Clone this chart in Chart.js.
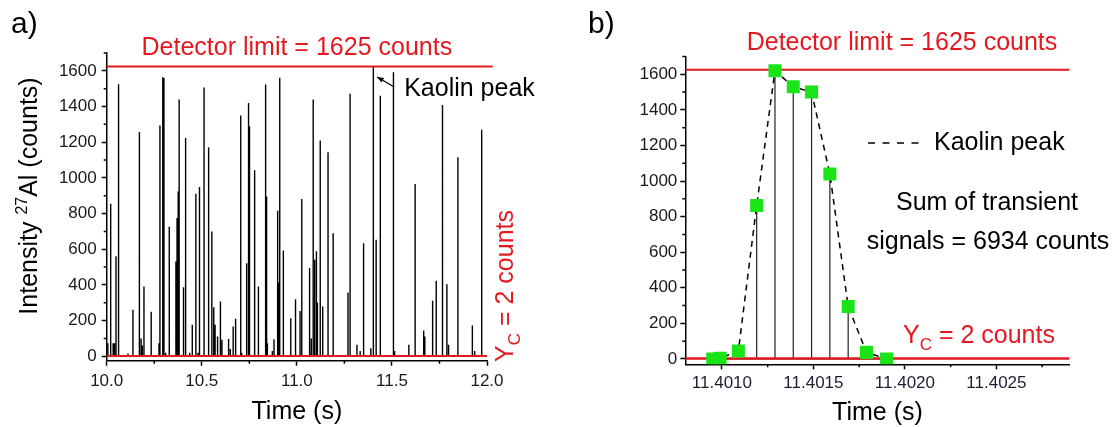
<!DOCTYPE html>
<html>
<head>
<meta charset="utf-8">
<script src="https://cdn.jsdelivr.net/npm/chart.js@4.4.0/dist/chart.umd.min.js"></script>
<style>
  body { margin: 0; background: #fff; width: 1115px; height: 427px; overflow: hidden; position: relative; }
  canvas { position: absolute; top: 0; }
  #ca { left: 0; }
  #cb { left: 560px; }
</style>
</head>
<body>
<canvas id="ca" width="560" height="427"></canvas>
<canvas id="cb" width="555" height="427"></canvas>
<script>
// panel a: single particle events, 10-12 s
var spikeTimes = [10.006,10.021,10.034,10.041,10.049,10.060,10.064,10.112,10.138,10.172,
  10.181,10.187,10.196,10.234,10.275,10.280,10.295,10.301,10.310,10.329,
  10.364,10.370,10.376,10.381,10.404,10.415,10.436,10.450,10.469,10.480,
  10.488,10.512,10.536,10.553,10.563,10.570,10.583,10.598,10.606,10.641,
  10.650,10.665,10.678,10.705,10.710,10.736,10.746,10.751,10.778,10.798,
  10.834,10.837,10.841,10.845,10.871,10.880,10.899,10.905,10.910,10.929,
  10.968,10.993,11.017,11.026,11.067,11.076,11.086,11.092,11.095,11.103,
  11.108,11.123,11.136,11.164,11.191,11.269,11.280,11.316,11.333,11.351,
  11.389,11.4013,11.403,11.417,11.439,11.508,11.514,11.589,11.622,11.667,
  11.673,11.714,11.733,11.766,11.789,11.798,11.847,11.923,11.935,11.972];
var spikeCounts = [73,855,73,73,560,140,1525,15,260,1257,
  100,60,391,249,73,1293,1564,1560,20,726,
  531,775,924,1439,387,1224,20,176,911,20,
  949,1506,1171,700,275,176,110,307,92,97,
  40,167,210,1349,20,522,1420,1289,1042,391,
  241,1523,896,73,30,95,816,413,1561,593,
  213,320,254,881,494,100,1439,541,245,588,
  300,1209,279,1143,690,357,1471,64,30,634,
  45,1625,1257,653,1461,1592,30,64,966,144,
  110,311,423,1409,404,64,1115,172,30,1270];

// panel b: the kaolin peak, 100 us dwell
var peakTimes = [11.40095,11.40099,11.40109,11.40119,11.40129,11.40139,11.40149,11.40159,11.40169,11.40179,11.40190];
var peakCounts = [0,4,45,863,1620,1530,1500,1040,295,37,0];

var detectorLimit = 1625;
var yCrit = 2;
var kaolinTime = 11.4013;

var yTicks = [0,200,400,600,800,1000,1200,1400,1600];
var yMinor = [100,300,500,700,900,1100,1300,1500,1700];
var xTicksA = [10.0,10.5,11.0,11.5,12.0];
var xMinorA = [10.25,10.75,11.25,11.75];
var xTicksB = [11.4010,11.4015,11.4020,11.4025];
var xMinorB = [11.40125,11.40175,11.40225,11.40275];

var FONT = "'Liberation Sans', Arial, sans-serif";
var RED = '#e3191f';

function sticks(times, counts) {
  var d = [];
  times.forEach(function(t, i) {
    d.push({x: t, y: 0}, {x: t, y: counts[i]}, {x: t, y: 0});
  });
  return d;
}

function hline(x0, x1, y) {
  return [{x: x0, y: y}, {x: x1, y: y}];
}

function yAxis(min, width, pad) {
  return {
    type: 'linear', min: min, max: 1700,
    afterFit: function(s) { s.width = width; },
    afterBuildTicks: function(s) { s.ticks = yTicks.map(function(v) { return {value: v}; }); },
    border: {display: true, color: '#000', width: 1.5},
    grid: {drawOnChartArea: false, tickLength: 5, tickColor: '#000', tickWidth: 1.5},
    ticks: {color: '#1a1a1a', padding: pad, font: {family: FONT, size: 17},
      callback: function(v) { return String(v); }}
  };
}

function xAxis(min, max, ticks, digits, height, pad, color) {
  return {
    type: 'linear', min: min, max: max,
    afterFit: function(s) { s.height = height; },
    afterBuildTicks: function(s) { s.ticks = ticks.map(function(v) { return {value: v}; }); },
    border: {display: true, color: '#000', width: 1.5},
    grid: {drawOnChartArea: false, tickLength: 5, tickColor: '#000', tickWidth: 1.5},
    ticks: {color: color, padding: pad, autoSkip: false, maxRotation: 0,
      font: {family: FONT, size: 17},
      callback: function(v) { return Number(v).toFixed(digits); }}
  };
}

function minorTicks(chart, xs, ys) {
  var ctx = chart.ctx, x = chart.scales.x, y = chart.scales.y;
  ctx.save();
  ctx.strokeStyle = '#000';
  ctx.lineWidth = 1.5;
  ctx.beginPath();
  xs.forEach(function(v) {
    var p = x.getPixelForValue(v);
    ctx.moveTo(p, y.bottom); ctx.lineTo(p, y.bottom + 3);
  });
  ys.forEach(function(v) {
    var p = y.getPixelForValue(v);
    ctx.moveTo(x.left, p); ctx.lineTo(x.left - 3, p);
  });
  ctx.stroke();
  ctx.restore();
}

function txt(ctx, s, x, y, size, color, align) {
  ctx.font = size + 'px ' + FONT;
  ctx.fillStyle = color;
  ctx.textAlign = align || 'left';
  ctx.textBaseline = 'middle';
  ctx.fillText(s, x, y);
}

// rotated axis title with the 27 superscript
function yTitle(ctx, bx, cy) {
  ctx.save();
  ctx.translate(bx, cy);
  ctx.rotate(-Math.PI / 2);
  ctx.fillStyle = '#000';
  ctx.textAlign = 'left';
  ctx.textBaseline = 'alphabetic';
  var big = '25px ' + FONT, small = '16px ' + FONT;
  ctx.font = big;
  var w1 = ctx.measureText('Intensity ').width, w3 = ctx.measureText('Al (counts)').width;
  ctx.font = small;
  var w2 = ctx.measureText('27').width;
  var x0 = -(w1 + w2 + w3) / 2;
  ctx.font = big; ctx.fillText('Intensity ', x0, 0);
  ctx.font = small; ctx.fillText('27', x0 + w1, -10);
  ctx.font = big; ctx.fillText('Al (counts)', x0 + w1 + w2, 0);
  ctx.restore();
}

// "Y_C = 2 counts", baseline origin, centred or left
function ycLabel(ctx, x, y, rot, centred) {
  ctx.save();
  ctx.translate(x, y);
  if (rot) ctx.rotate(-Math.PI / 2);
  ctx.fillStyle = RED;
  ctx.textAlign = 'left';
  ctx.textBaseline = 'alphabetic';
  var big = '25px ' + FONT, small = '17px ' + FONT, rest = ' = ' + yCrit + ' counts';
  ctx.font = big;
  var w1 = ctx.measureText('Y').width, w3 = ctx.measureText(rest).width;
  ctx.font = small;
  var w2 = ctx.measureText('C').width;
  var x0 = centred ? -(w1 + w2 + w3) / 2 : 0;
  ctx.font = big; ctx.fillText('Y', x0, 0);
  ctx.font = small; ctx.fillText('C', x0 + w1, 7);
  ctx.font = big; ctx.fillText(rest, x0 + w1 + w2, 0);
  ctx.restore();
}

var decorA = {
  id: 'decorA',
  afterDraw: function(chart) {
    var ctx = chart.ctx, ca = chart.chartArea, x = chart.scales.x, y = chart.scales.y;
    minorTicks(chart, xMinorA, yMinor);
    txt(ctx, 'a)', 11, 25, 30, '#000');
    txt(ctx, 'Detector limit = ' + detectorLimit + ' counts', (ca.left + ca.right) / 2, 48, 25, RED, 'center');
    txt(ctx, 'Time (s)', (ca.left + ca.right) / 2, 412, 25, '#000', 'center');
    yTitle(ctx, 37, 196);
    ycLabel(ctx, 513, 286, true, true);
    // Kaolin peak arrow
    var kx = x.getPixelForValue(kaolinTime), ky = y.getPixelForValue(1560);
    txt(ctx, 'Kaolin peak', kx + 31, 89, 25, '#000');
    var tx = kx + 4, ty = ky - 1, sx = kx + 21, sy = ky + 9;
    var ang = Math.atan2(ty - sy, tx - sx);
    ctx.save();
    ctx.strokeStyle = '#000'; ctx.fillStyle = '#000'; ctx.lineWidth = 1.3;
    ctx.beginPath(); ctx.moveTo(sx, sy); ctx.lineTo(tx, ty); ctx.stroke();
    ctx.beginPath();
    ctx.moveTo(tx, ty);
    ctx.lineTo(tx - 7 * Math.cos(ang - 0.4), ty - 7 * Math.sin(ang - 0.4));
    ctx.lineTo(tx - 7 * Math.cos(ang + 0.4), ty - 7 * Math.sin(ang + 0.4));
    ctx.closePath(); ctx.fill();
    ctx.restore();
  }
};

var decorB = {
  id: 'decorB',
  afterDraw: function(chart) {
    var ctx = chart.ctx, ca = chart.chartArea;
    minorTicks(chart, xMinorB, yMinor);
    txt(ctx, 'b)', 28, 25, 30, '#000');
    txt(ctx, 'Detector limit = ' + detectorLimit + ' counts', 342, 43, 25, RED, 'center');
    txt(ctx, 'Time (s)', (ca.left + ca.right) / 2, 413, 25, '#000', 'center');
    yTitle(ctx, 614, 199);
    ycLabel(ctx, 343, 343, false, false);
    // legend
    ctx.save();
    ctx.strokeStyle = '#000'; ctx.lineWidth = 1.5; ctx.setLineDash([7, 7.5]);
    ctx.beginPath(); ctx.moveTo(308, 143); ctx.lineTo(366, 143); ctx.stroke();
    ctx.restore();
    txt(ctx, 'Kaolin peak', 374, 143, 25, '#000');
    var sum = peakCounts.reduce(function(a, b) { return a + b; }, 0);
    txt(ctx, 'Sum of transient', 427, 203, 25, '#000', 'center');
    txt(ctx, 'signals = ' + sum + ' counts', 428, 242, 25, '#000', 'center');
  }
};

var common = {
  responsive: false,
  animation: false,
  events: [],
  plugins: {legend: {display: false}, tooltip: {enabled: false}},
  elements: {point: {radius: 0}, line: {tension: 0}}
};

new Chart(document.getElementById('ca'), {
  type: 'scatter',
  data: {
    datasets: [
      {data: hline(10.0, 12.03, detectorLimit), showLine: true, borderColor: RED, borderWidth: 2, clip: false},
      {data: hline(10.0, 12.0, yCrit), showLine: true, borderColor: RED, borderWidth: 2},
      {data: sticks(spikeTimes, spikeCounts), showLine: true, borderColor: '#000', borderWidth: 1.4}
    ]
  },
  options: Object.assign({}, common, {
    layout: {padding: {left: 0, right: 73, top: 53, bottom: 0}},
    scales: {
      x: xAxis(10.0, 12.0, xTicksA, 1, 66.3, 5, '#1a1a1a'),
      y: yAxis(-25, 106.7, 5)
    }
  }),
  plugins: [decorA]
});

new Chart(document.getElementById('cb'), {
  type: 'scatter',
  data: {
    datasets: [
      {data: peakTimes.map(function(t, i) { return {x: t, y: peakCounts[i]}; }),
        showLine: true, borderColor: '#000', borderWidth: 1.5, borderDash: [6, 5],
        pointStyle: 'rect', pointRadius: 9.2, pointBackgroundColor: '#18e418', pointBorderWidth: 0},
      {data: hline(11.4008, 11.4029, detectorLimit), showLine: true, borderColor: RED, borderWidth: 2},
      {data: hline(11.4008, 11.4029, yCrit), showLine: true, borderColor: RED, borderWidth: 2.5},
      {data: sticks(peakTimes, peakCounts), showLine: true, borderColor: '#222', borderWidth: 1.2}
    ]
  },
  options: Object.assign({}, common, {
    layout: {padding: {left: 0, right: 45.4, top: 56.5, bottom: 0}},
    scales: {
      x: xAxis(11.4008, 11.4029, xTicksB, 4, 62.7, 4, '#1a2030'),
      y: yAxis(-30, 125.3, 3)
    }
  }),
  plugins: [decorB]
});
</script>
</body>
</html>
